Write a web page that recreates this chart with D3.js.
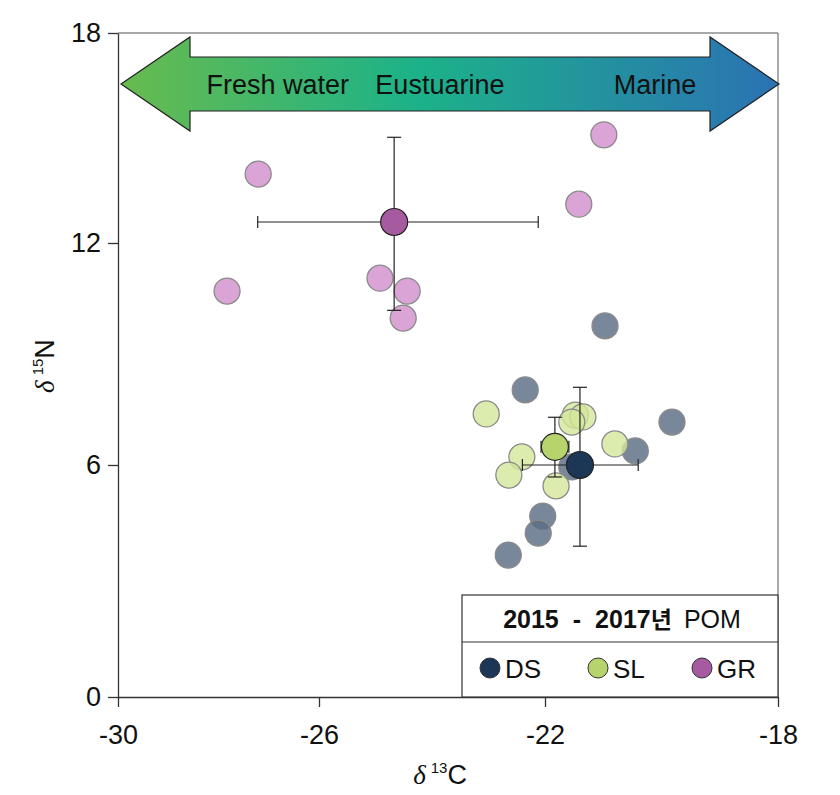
<!DOCTYPE html>
<html><head><meta charset="utf-8">
<script src="https://cdn.jsdelivr.net/npm/d3@7"></script>
<style>
body{margin:0;background:#fff;}
text{font-family:"Liberation Sans",Arial,sans-serif;fill:#111;}
</style></head><body>
<svg id="c" width="840" height="795"></svg>
<script>
// ---- data ----
const xTicks = [-30, -26, -22, -18];
const yTicks = [0, 6, 12, 18];
const zoneLabels = ["Fresh water", "Eustuarine", "Marine"];
const zoneX = [-26.82, -23.86, -20.11];
const groups = ["DS", "SL", "GR"];
const dsX = [-22.35, -19.82, -20.45, -21.54, -22.04, -22.12, -22.65, -20.97];
const dsY = [8.03, 7.16, 6.38, 5.95, 4.68, 4.24, 3.67, 9.76];
const slX = [-23.04, -21.48, -21.35, -21.54, -22.41, -22.64, -21.81, -20.80];
const slY = [7.38, 7.35, 7.30, 7.16, 6.22, 5.74, 5.46, 6.57];
const grX = [-27.21, -27.83, -24.92, -24.44, -24.51, -20.99, -21.42];
const grY = [13.97, 10.70, 11.05, 10.70, 9.97, 15.09, 13.11];
const meanX = [-21.40, -21.83, -24.67];
const meanY = [6.00, 6.49, 12.60];
const sdX = [1.00, 0.24, 2.55];
const sdY = [2.10, 0.80, 2.42];
const legendYears = ["2015", "-", "2017년"];
const legendSub = "POM";

// ---- styling ----
const meanFill = ["#1c3656", "#b7d46c", "#a65aa0"];
const ptFill = ["#5a6c84", "#d3e79a", "#d89fd5"];
const ptOpacity = [0.82, 0.8, 0.95];

const svg = d3.select("#c");
const x = d3.scaleLinear().domain(xTicks).range([118, 319, 545, 778]);
const y = d3.scaleLinear().domain(yTicks).range([697, 465, 243, 33]);

// frame (top/right)
svg.append("path").attr("d", `M${x(-30)},${y(18)}H${x(-18)}V${y(0)}`)
  .attr("fill", "none").attr("stroke", "#555").attr("stroke-width", 1);

// arrow
const defs = svg.append("defs");
const grad = defs.append("linearGradient").attr("id", "ag").attr("x1", "0").attr("x2", "1").attr("y1", "0").attr("y2", "0");
grad.append("stop").attr("offset", "0").attr("stop-color", "#68bb4e");
grad.append("stop").attr("offset", "0.45").attr("stop-color", "#1cb289");
grad.append("stop").attr("offset", "1").attr("stop-color", "#2b72b4");
const ay = 84, bodyH = 27, headH = 47, headW = 69;
const ax0 = x(-30) + 3, ax1 = x(-18) + 1;
svg.append("path")
  .attr("d", `M${ax0},${ay} L${ax0 + headW},${ay - headH} V${ay - bodyH} H${ax1 - headW} V${ay - headH} L${ax1},${ay} L${ax1 - headW},${ay + headH} V${ay + bodyH} H${ax0 + headW} V${ay + headH} Z`)
  .attr("fill", "url(#ag)").attr("stroke", "#222").attr("stroke-width", 1.2);
svg.selectAll("text.zone").data(zoneLabels).join("text").attr("class", "zone")
  .attr("x", (d, i) => x(zoneX[i])).attr("y", ay + 10).attr("text-anchor", "middle")
  .attr("font-size", 27).attr("fill", "#151515").text(d => d);

// axes
const gx = svg.append("g").attr("transform", `translate(0,${y(0)})`)
  .call(d3.axisBottom(x).tickValues(xTicks).tickSize(10).tickSizeOuter(0).tickFormat(d => d));
const gy = svg.append("g").attr("transform", `translate(${x(-30)},0)`)
  .call(d3.axisLeft(y).tickValues(yTicks).tickSize(10).tickSizeOuter(0));
[gx, gy].forEach(g => {
  g.select(".domain").attr("stroke", "#333").attr("stroke-width", 1.3);
  g.selectAll(".tick line").attr("stroke", "#333").attr("stroke-width", 1.3);
  g.selectAll(".tick text").attr("font-size", 27).attr("font-family", "'Liberation Sans',Arial,sans-serif").attr("fill", "#111");
});
gx.selectAll(".tick text").attr("dy", "1.25em").text(d => d < 0 ? "-" + Math.abs(d) : d);
gy.selectAll(".tick text").attr("dx", "-0.15em");

// axis titles
const xt = svg.append("text").attr("x", 440).attr("y", 784).attr("text-anchor", "middle").attr("font-size", 27);
xt.append("tspan").attr("font-style", "italic").attr("font-family", "'Liberation Serif',serif").text("δ");
xt.append("tspan").attr("font-size", 15).attr("dy", -11).attr("dx", 5).text("13");
xt.append("tspan").attr("dy", 11).text("C");
const yt = svg.append("text").attr("transform", "translate(54,366) rotate(-90)").attr("text-anchor", "middle").attr("font-size", 27);
yt.append("tspan").attr("font-style", "italic").attr("font-family", "'Liberation Serif',serif").text("δ");
yt.append("tspan").attr("font-size", 15).attr("dy", -11).attr("dx", 5).text("15");
yt.append("tspan").attr("dy", 11).text("N");

// individual points
const sets = [[dsX, dsY], [slX, slY], [grX, grY]];
const pts = svg.append("g");
sets.forEach(([xs, ys], gi) => {
  pts.selectAll(null).data(xs).join("circle")
    .attr("cx", d => x(d)).attr("cy", (d, i) => y(ys[i])).attr("r", 13)
    .attr("fill", ptFill[gi]).attr("fill-opacity", ptOpacity[gi])
    .attr("stroke", "#8a8a8a").attr("stroke-width", 1.3);
});

// error bars
const eb = svg.append("g").attr("stroke", "#222").attr("stroke-width", 1.2);
meanX.forEach((mx, i) => {
  const my = meanY[i];
  eb.append("line").attr("x1", x(mx - sdX[i])).attr("x2", x(mx + sdX[i])).attr("y1", y(my)).attr("y2", y(my));
  eb.append("line").attr("x1", x(mx)).attr("x2", x(mx)).attr("y1", y(my - sdY[i])).attr("y2", y(my + sdY[i]));
  [mx - sdX[i], mx + sdX[i]].forEach(v => eb.append("line").attr("x1", x(v)).attr("x2", x(v)).attr("y1", y(my) - 6).attr("y2", y(my) + 6));
  [my - sdY[i], my + sdY[i]].forEach(v => eb.append("line").attr("x1", x(mx) - 7).attr("x2", x(mx) + 7).attr("y1", y(v)).attr("y2", y(v)));
});

// means
svg.append("g").selectAll("circle").data(meanX).join("circle")
  .attr("cx", d => x(d)).attr("cy", (d, i) => y(meanY[i])).attr("r", 13.5)
  .attr("fill", (d, i) => meanFill[i]).attr("stroke", "#222").attr("stroke-width", 1.2);

// legend
const lg = svg.append("g");
const lx0 = 462, lx1 = x(-18), ly0 = 595, ly1 = 642, ly2 = y(0);
lg.append("rect").attr("x", lx0).attr("y", ly0).attr("width", lx1 - lx0).attr("height", ly2 - ly0)
  .attr("fill", "#fff").attr("stroke", "#333").attr("stroke-width", 1.2);
lg.append("line").attr("x1", lx0).attr("x2", lx1).attr("y1", ly1).attr("y2", ly1).attr("stroke", "#333").attr("stroke-width", 1.2);
const tt = lg.append("text").attr("x", (lx0 + lx1) / 2 + 2).attr("y", 628).attr("text-anchor", "middle").attr("font-size", 25);
tt.append("tspan").attr("font-weight", "bold").text(legendYears[0]);
tt.append("tspan").attr("font-weight", "bold").attr("dx", 14).text(legendYears[1]);
tt.append("tspan").attr("font-weight", "bold").attr("dx", 14).text(legendYears[2].replace("년", ""));
tt.append("tspan").attr("font-family", "'Noto Sans CJK KR',sans-serif").attr("font-weight", "bold").attr("font-size", 23).text("년");
tt.append("tspan").attr("dx", 12).text(legendSub);
const legX = [490, 598, 702];
groups.forEach((g, i) => {
  lg.append("circle").attr("cx", legX[i]).attr("cy", 668).attr("r", 10)
    .attr("fill", meanFill[i]).attr("stroke", "#333").attr("stroke-width", 1);
  lg.append("text").attr("x", legX[i] + 15).attr("y", 678).attr("font-size", 26).text(g);
});
</script></body></html>
